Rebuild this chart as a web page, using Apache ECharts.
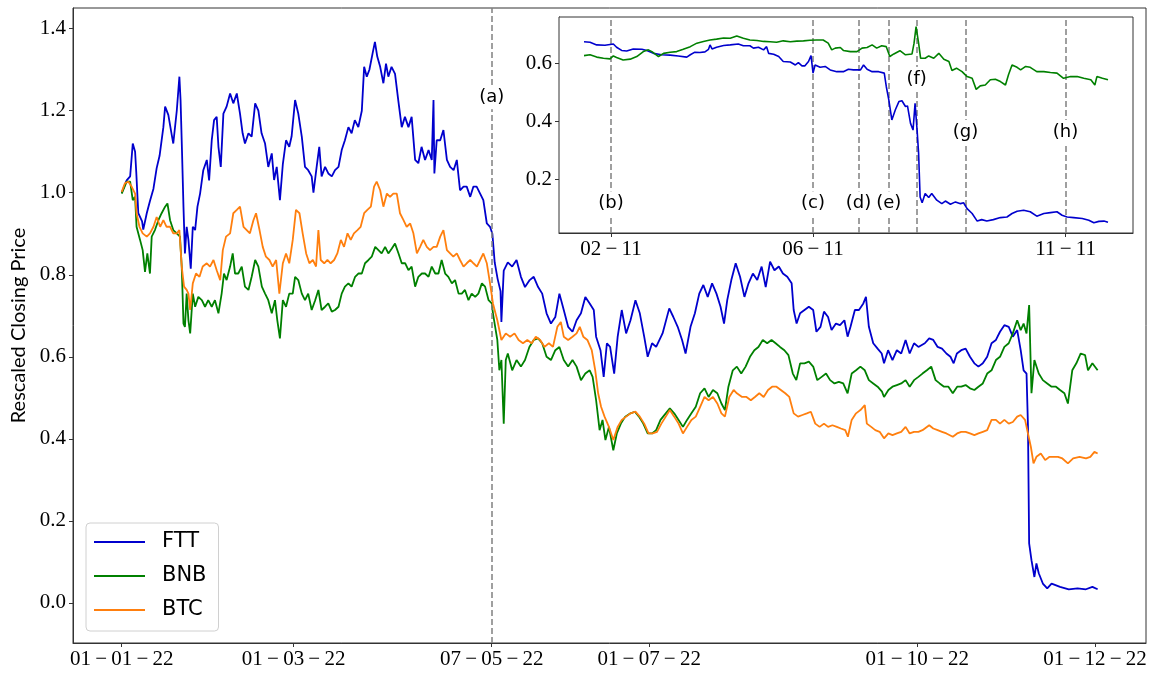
<!DOCTYPE html>
<html><head><meta charset="utf-8">
<script src="https://cdn.jsdelivr.net/npm/echarts@6/dist/echarts.min.js"></script>
<style>html,body{margin:0;padding:0;background:#fff}#c{width:1154px;height:673px}</style>
</head><body><div id="c"></div>
<script>
// ---- main chart: x = days since 01-01-2022, y = rescaled closing price ----
const mainTickDays = [0, 59, 126.97, 181, 273, 334];
const mainTickLabels = ['01\u2009\u2212\u200901\u2009\u2212\u200922','01\u2009\u2212\u200903\u2009\u2212\u200922','07\u2009\u2212\u200905\u2009\u2212\u200922','01\u2009\u2212\u200907\u2009\u2212\u200922','01\u2009\u2212\u200910\u2009\u2212\u200922','01\u2009\u2212\u200912\u2009\u2212\u200922'];
const mainYTicks = [0, 0.2, 0.4, 0.6, 0.8, 1.0, 1.2, 1.4];
const seriesNames = ['FTT','BNB','BTC'];

const FTT = [[0,1.0],[1.7,1.03],[2.9,1.04],[3.8,1.12],[4.6,1.10],[5,1.05],[5.7,0.95],[7,0.93],[7.4,0.91],[8.6,0.95],[9.7,0.98],[10.9,1.01],[12,1.06],[13,1.09],[14.3,1.16],[14.9,1.21],[16,1.19],[17.2,1.14],[17.7,1.12],[18.9,1.20],[19.8,1.283],[20.2,1.226],[20.7,1.10],[21.2,0.966],[21.7,0.852],[22.3,0.917],[22.9,0.885],[23.7,0.815],[24.4,0.917],[25.2,0.909],[26,0.966],[26.9,0.998],[28,1.055],[29.2,1.08],[30,1.03],[30.9,1.128],[31.7,1.177],[32.6,1.185],[33.2,1.112],[34,1.063],[34.9,1.193],[36,1.21],[37.2,1.242],[38.3,1.218],[39.5,1.242],[40.6,1.193],[41.5,1.145],[42.3,1.12],[43.5,1.145],[44.6,1.137],[45.8,1.218],[46.9,1.2],[48,1.145],[49.2,1.12],[50.3,1.063],[51.5,1.096],[52.3,1.031],[53.2,1.063],[54.3,0.982],[55.3,1.07],[56.4,1.128],[57.5,1.112],[58.3,1.137],[59.5,1.226],[60.6,1.193],[61.8,1.137],[62.9,1.063],[64,1.055],[65.2,1.04],[65.8,1.0],[66.9,1.063],[67.8,1.112],[68.6,1.04],[69.8,1.063],[70.9,1.047],[72.1,1.04],[73.2,1.055],[74.4,1.063],[75.5,1.104],[76.6,1.128],[77.8,1.16],[78.9,1.145],[80,1.177],[81.2,1.16],[82.4,1.2],[83.2,1.307],[84.1,1.283],[85,1.3],[86.1,1.34],[86.9,1.368],[87.7,1.332],[88.7,1.307],[89.8,1.267],[90.7,1.315],[91.5,1.283],[92.6,1.307],[93.8,1.29],[94.9,1.226],[96.1,1.16],[97.2,1.185],[98.4,1.16],[99.5,1.185],[100.7,1.08],[101.8,1.072],[102.9,1.112],[104.1,1.08],[105.3,1.104],[106.4,1.08],[107,1.226],[107.3,1.047],[108.1,1.128],[109.3,1.128],[110.4,1.153],[111.6,1.08],[112.7,1.063],[113.9,1.055],[115,1.08],[116.1,1.006],[117.3,1.015],[118.4,1.015],[119.6,0.99],[120.7,1.015],[121.8,1.015],[123,0.998],[124.1,0.982],[125.3,0.925],[126.4,0.917],[127.2,0.9],[128,0.83],[129,0.79],[130,0.76],[130.3,0.685],[131.1,0.81],[132.5,0.83],[134,0.82],[135.5,0.836],[137,0.795],[138.4,0.77],[140,0.787],[141.4,0.795],[142.9,0.77],[144.3,0.754],[145.8,0.706],[147.3,0.681],[148.8,0.697],[150.2,0.754],[151.7,0.714],[153.2,0.673],[154.7,0.661],[156.1,0.689],[157.6,0.706],[159.1,0.746],[160.6,0.73],[162,0.714],[162.8,0.649],[164.3,0.616],[165.4,0.551],[166.5,0.633],[167.6,0.624],[169,0.559],[170.2,0.649],[171.6,0.714],[173.1,0.657],[174.6,0.689],[176.3,0.738],[177.8,0.706],[179.3,0.649],[180.5,0.6],[182,0.633],[183.4,0.624],[185.6,0.657],[187.9,0.718],[189.3,0.697],[190.8,0.673],[192.3,0.641],[193.5,0.608],[195.2,0.673],[196.7,0.706],[198.2,0.754],[199.6,0.775],[201.1,0.746],[202.6,0.779],[204.1,0.754],[205.5,0.722],[206.7,0.681],[207.8,0.738],[209.2,0.787],[210.7,0.828],[212.2,0.795],[213.7,0.746],[215.1,0.779],[216.6,0.803],[218.1,0.787],[219.6,0.82],[221,0.77],[222.5,0.832],[224,0.811],[225.5,0.82],[226.9,0.803],[228.4,0.795],[229.9,0.779],[230.6,0.714],[231.6,0.681],[232.8,0.706],[234.3,0.714],[235.8,0.722],[237.3,0.714],[238.4,0.661],[239.8,0.673],[241,0.71],[242.4,0.697],[243.6,0.665],[245.1,0.681],[246.5,0.677],[248,0.689],[249.1,0.649],[250.1,0.673],[251.6,0.714],[253,0.714],[254.5,0.73],[255.4,0.746],[256.4,0.673],[257.9,0.633],[259.4,0.62],[260.8,0.608],[261.6,0.584],[263,0.616],[264.5,0.592],[266,0.616],[267.5,0.608],[269,0.641],[270.4,0.608],[271.9,0.633],[273.4,0.624],[275.6,0.633],[277.1,0.645],[278.5,0.641],[280,0.624],[281.5,0.62],[283,0.608],[284.4,0.6],[285.5,0.584],[286.6,0.608],[288.1,0.616],[289.6,0.62],[291.1,0.6],[292.6,0.584],[294,0.576],[295.5,0.584],[297,0.6],[298.5,0.633],[300,0.641],[301.4,0.661],[302.9,0.677],[304.4,0.673],[305.8,0.649],[307.3,0.665],[308.5,0.616],[309.5,0.567],[310.5,0.559],[311,0.43],[311.4,0.145],[312.2,0.104],[313.2,0.063],[313.9,0.096],[314.7,0.072],[316.1,0.047],[317.6,0.035],[319.1,0.047],[322,0.039],[325,0.033],[328,0.035],[330.9,0.033],[333.1,0.039],[334.9,0.033]];

const BNB = [[0,0.998],[1.7,1.027],[2.9,1.027],[3.8,0.982],[4.6,0.99],[5.1,0.917],[6.3,0.885],[7.2,0.86],[8,0.807],[8.8,0.852],[9.7,0.803],[10.3,0.893],[11.4,0.909],[12.6,0.933],[13.7,0.95],[14.9,0.966],[15.7,0.974],[16.6,0.933],[17.7,0.909],[18.9,0.901],[20,0.893],[20.6,0.82],[21.2,0.681],[21.7,0.673],[22.3,0.754],[22.9,0.689],[23.5,0.657],[24.4,0.754],[25.2,0.722],[26.3,0.746],[27.5,0.738],[28.6,0.722],[29.7,0.738],[30.9,0.722],[32,0.738],[33.2,0.706],[34.3,0.754],[35.1,0.803],[36,0.787],[37.2,0.82],[38.1,0.852],[38.9,0.803],[40,0.803],[41.2,0.82],[42.3,0.771],[43.5,0.763],[44.6,0.795],[45.8,0.836],[46.9,0.82],[48.1,0.771],[49.2,0.754],[50.3,0.738],[51.5,0.706],[52.6,0.738],[53.4,0.689],[54.3,0.645],[55.3,0.738],[56.4,0.722],[57.5,0.754],[58.7,0.754],[59.5,0.795],[60.6,0.787],[61.8,0.754],[62.9,0.738],[64,0.754],[65.2,0.714],[66.4,0.738],[67.5,0.763],[68.6,0.714],[69.8,0.722],[70.9,0.73],[72.1,0.71],[73.2,0.714],[74.4,0.722],[75.5,0.754],[76.6,0.771],[77.8,0.779],[78.9,0.771],[80.1,0.795],[81.2,0.803],[82.4,0.803],[83.5,0.828],[84.7,0.836],[85.8,0.844],[87,0.868],[88.1,0.86],[89.2,0.852],[90.4,0.868],[91.5,0.852],[92.7,0.864],[93.8,0.876],[95,0.852],[96.1,0.828],[97.3,0.828],[98.4,0.811],[99.5,0.82],[100.7,0.771],[101.8,0.795],[103,0.803],[104.1,0.803],[105.3,0.795],[106.4,0.82],[107.6,0.803],[108.7,0.803],[109.8,0.836],[111,0.803],[112.1,0.795],[113.3,0.779],[114.4,0.787],[115.6,0.754],[116.7,0.754],[117.8,0.763],[119,0.738],[120.1,0.754],[121.3,0.746],[122.4,0.754],[123.6,0.779],[124.7,0.771],[125.9,0.738],[127,0.73],[127.4,0.706],[128.9,0.641],[129.6,0.567],[130.3,0.592],[131.1,0.437],[131.8,0.592],[132.5,0.608],[134,0.567],[135.5,0.592],[137,0.576],[138.4,0.592],[139.9,0.624],[141.4,0.641],[142.9,0.645],[144.3,0.633],[145.8,0.6],[147.3,0.592],[148.8,0.616],[150.2,0.624],[151.7,0.592],[153.2,0.576],[154.7,0.592],[156.1,0.576],[157.6,0.543],[159.1,0.559],[160.6,0.567],[161.6,0.551],[162.8,0.494],[164,0.421],[165,0.446],[166,0.397],[167.2,0.429],[168.7,0.372],[169.9,0.413],[171.3,0.437],[172.8,0.454],[174.6,0.462],[176.1,0.466],[177.5,0.454],[179,0.437],[180.5,0.413],[182,0.413],[183.4,0.421],[184.9,0.446],[186.7,0.462],[188.1,0.474],[189.6,0.462],[191.1,0.446],[192.6,0.429],[194,0.446],[195.5,0.462],[197,0.478],[198.5,0.511],[200,0.523],[201.4,0.502],[202.9,0.519],[204.4,0.511],[205.8,0.486],[207,0.47],[208.2,0.527],[209.7,0.567],[211.1,0.576],[212.6,0.559],[214.1,0.576],[215.6,0.6],[217.1,0.616],[218.5,0.624],[220,0.641],[221.5,0.633],[223,0.641],[224.4,0.633],[225.9,0.624],[227.4,0.616],[228.8,0.604],[230.3,0.559],[231.5,0.543],[232.8,0.584],[234.3,0.584],[235.8,0.588],[237.3,0.576],[238.7,0.543],[240.2,0.551],[241.7,0.559],[243.1,0.543],[244.6,0.535],[246.1,0.539],[247.6,0.535],[249.1,0.511],[250.5,0.559],[252,0.567],[253.5,0.576],[255,0.567],[256.4,0.543],[257.9,0.535],[259.4,0.527],[260.9,0.515],[261.6,0.502],[263.1,0.519],[264.5,0.527],[266,0.531],[267.5,0.535],[269,0.543],[270.4,0.527],[271.9,0.543],[273.4,0.551],[274.8,0.559],[276.3,0.567],[277.8,0.576],[279.3,0.543],[280.7,0.535],[282.2,0.527],[283.7,0.527],[285.2,0.511],[286.7,0.527],[288.1,0.527],[289.6,0.531],[291.1,0.523],[292.6,0.519],[294,0.527],[295.5,0.535],[297,0.559],[298.5,0.567],[300,0.592],[301.4,0.6],[302.9,0.624],[304.4,0.633],[305.8,0.657],[307.3,0.689],[308.5,0.665],[309.5,0.681],[310.5,0.657],[311.4,0.726],[312.2,0.511],[313.2,0.592],[314.7,0.559],[316.1,0.543],[317.6,0.535],[319.1,0.527],[320.6,0.527],[322,0.519],[323.5,0.511],[324.7,0.486],[326.2,0.567],[327.6,0.584],[329.1,0.608],[330.6,0.604],[331.6,0.567],[333.1,0.584],[334.9,0.567]];

const BTC = [[0,1.002],[1.1,1.023],[2.3,1.027],[3.4,1.015],[4.6,0.998],[5.1,0.95],[6.1,0.917],[7.2,0.901],[8.6,0.893],[9.7,0.901],[10.9,0.917],[12,0.941],[13.2,0.917],[14.3,0.933],[15.4,0.917],[16.6,0.917],[17.7,0.901],[18.9,0.901],[19.8,0.909],[20.6,0.82],[21.4,0.771],[22.3,0.763],[22.9,0.754],[23.5,0.714],[24.4,0.779],[25.5,0.803],[26.7,0.795],[27.8,0.82],[29.2,0.828],[30.3,0.82],[31.5,0.836],[32.6,0.811],[33.8,0.787],[34.7,0.86],[35.8,0.893],[37.2,0.901],[38.3,0.95],[39.5,0.958],[40.6,0.966],[41.8,0.917],[42.9,0.909],[44,0.901],[45.2,0.933],[46.1,0.95],[47.3,0.909],[48.4,0.868],[49.5,0.844],[50.7,0.836],[51.8,0.82],[53,0.836],[54.1,0.754],[55.3,0.828],[56.4,0.852],[57.5,0.828],[58.7,0.885],[59.8,0.958],[61,0.95],[62.1,0.901],[63.3,0.852],[64.4,0.828],[65.6,0.836],[66.7,0.82],[67.5,0.909],[68.3,0.836],[69.5,0.828],[70.6,0.836],[71.7,0.828],[72.9,0.836],[74,0.852],[75.2,0.885],[76.3,0.868],[77.5,0.901],[78.6,0.885],[79.7,0.901],[80.9,0.909],[82,0.917],[83.2,0.95],[84.3,0.958],[85.5,0.966],[86.6,1.015],[87.5,1.027],[88.7,1.006],[89.8,0.966],[91,0.998],[92.1,0.99],[93.2,0.998],[94.4,0.998],[95.5,0.95],[96.7,0.933],[97.8,0.917],[99,0.925],[100.1,0.901],[101.3,0.852],[102.4,0.868],[103.5,0.885],[104.7,0.868],[105.8,0.86],[107,0.868],[108.1,0.868],[109.3,0.893],[110.4,0.909],[111.6,0.86],[112.7,0.852],[113.8,0.844],[115,0.852],[116.1,0.836],[117.3,0.82],[118.4,0.828],[119.6,0.836],[120.7,0.828],[121.9,0.82],[123,0.836],[124.1,0.852],[125.3,0.828],[126.4,0.779],[127.4,0.73],[128.9,0.689],[130.3,0.641],[131.8,0.657],[133.3,0.649],[134.8,0.657],[136.2,0.641],[137.7,0.633],[139.2,0.641],[140.7,0.633],[142.1,0.649],[143.6,0.641],[145.1,0.624],[146.6,0.633],[148,0.624],[149.5,0.673],[150.7,0.685],[151.7,0.649],[153.2,0.641],[154.7,0.649],[156.1,0.657],[157.2,0.673],[158.4,0.649],[159.8,0.641],[161.3,0.616],[162.5,0.567],[163.5,0.511],[164.5,0.478],[165.7,0.454],[167.2,0.429],[168.7,0.397],[170.2,0.429],[171.6,0.446],[173.1,0.454],[174.6,0.462],[176.3,0.466],[177.8,0.454],[179.3,0.437],[180.8,0.413],[182.2,0.413],[183.7,0.417],[185.2,0.437],[186.7,0.454],[188.1,0.47],[189.6,0.454],[191.1,0.437],[192.6,0.413],[194,0.429],[195.5,0.446],[197,0.454],[198.5,0.478],[200,0.502],[201.4,0.494],[202.9,0.502],[204.4,0.486],[205.8,0.462],[207,0.454],[208.5,0.502],[210,0.519],[211.1,0.511],[212.9,0.502],[214.4,0.502],[215.9,0.494],[217.3,0.502],[218.8,0.511],[220.3,0.502],[221.8,0.519],[223.2,0.527],[224.7,0.527],[226.2,0.519],[227.7,0.511],[229.1,0.502],[230.6,0.462],[232.1,0.454],[233.6,0.458],[235.1,0.462],[236.5,0.466],[238,0.437],[239.5,0.429],[241,0.437],[242.4,0.429],[243.9,0.433],[245.4,0.429],[246.8,0.425],[248.3,0.421],[249.2,0.405],[250.5,0.446],[252,0.462],[253.5,0.47],[255,0.482],[255.7,0.437],[257.2,0.429],[258.6,0.421],[260.1,0.417],[261.6,0.401],[263.1,0.413],[264.5,0.409],[266,0.413],[267.5,0.417],[269,0.429],[270.4,0.413],[271.9,0.417],[273.4,0.417],[274.8,0.421],[277.1,0.433],[278.5,0.425],[280,0.421],[281.5,0.417],[283,0.413],[285.2,0.405],[286.7,0.413],[288.1,0.417],[289.6,0.417],[291.1,0.413],[292.6,0.409],[294,0.413],[295.5,0.417],[297,0.421],[298.5,0.446],[300,0.446],[301.4,0.437],[302.9,0.446],[304.4,0.437],[305.8,0.441],[307.3,0.454],[308.5,0.458],[310,0.446],[311,0.413],[312,0.38],[312.9,0.34],[313.9,0.356],[315.4,0.364],[316.9,0.348],[318.4,0.356],[319.8,0.356],[321.3,0.356],[322.8,0.352],[324.7,0.34],[326.5,0.352],[328.7,0.356],[330.9,0.352],[332.4,0.356],[333.8,0.368],[334.9,0.364]];

const mainEvents = [{name:'(a)', day:126.97, labelY:1.233}];

// ---- inset: x = days since 01-11-2022 00:00 ----
const insetTickDays = [1, 5, 10];
const insetTickLabels = ['02\u2009\u2212\u200911','06\u2009\u2212\u200911','11\u2009\u2212\u200911'];
const insetYTicks = [0.2, 0.4, 0.6];

const FTT_NOV = [[0.465,0.674],[0.584,0.672],[0.716,0.663],[0.88,0.662],[1.046,0.666],[1.11,0.655],[1.21,0.644],[1.31,0.642],[1.44,0.649],[1.61,0.648],[1.71,0.644],[1.84,0.634],[2.0,0.629],[2.17,0.628],[2.33,0.625],[2.5,0.621],[2.57,0.629],[2.66,0.638],[2.76,0.637],[2.86,0.639],[2.93,0.648],[2.96,0.663],[3.0,0.649],[3.09,0.655],[3.23,0.661],[3.36,0.663],[3.52,0.666],[3.62,0.66],[3.75,0.66],[3.82,0.652],[3.92,0.655],[4.02,0.646],[4.08,0.657],[4.12,0.634],[4.22,0.631],[4.32,0.623],[4.41,0.606],[4.55,0.604],[4.65,0.594],[4.71,0.602],[4.78,0.591],[4.84,0.591],[4.91,0.606],[4.96,0.626],[5.0,0.566],[5.04,0.594],[5.14,0.586],[5.24,0.589],[5.34,0.577],[5.47,0.571],[5.6,0.571],[5.7,0.579],[5.8,0.577],[5.94,0.577],[6.0,0.594],[6.07,0.579],[6.17,0.571],[6.3,0.571],[6.41,0.566],[6.45,0.52],[6.5,0.474],[6.56,0.405],[6.63,0.44],[6.7,0.468],[6.76,0.471],[6.83,0.451],[6.87,0.453],[6.93,0.393],[6.98,0.37],[7.02,0.462],[7.06,0.37],[7.09,0.29],[7.12,0.14],[7.16,0.12],[7.22,0.152],[7.29,0.138],[7.35,0.152],[7.45,0.129],[7.55,0.117],[7.62,0.126],[7.72,0.115],[7.82,0.123],[7.92,0.117],[7.98,0.12],[8.05,0.1],[8.15,0.083],[8.25,0.057],[8.34,0.062],[8.44,0.057],[8.57,0.062],[8.71,0.069],[8.84,0.071],[8.94,0.083],[9.04,0.091],[9.17,0.094],[9.3,0.089],[9.43,0.074],[9.57,0.083],[9.7,0.086],[9.83,0.089],[9.93,0.077],[10.03,0.071],[10.16,0.069],[10.33,0.066],[10.46,0.06],[10.56,0.051],[10.66,0.056],[10.76,0.057],[10.84,0.053]];

const BNB_NOV = [[0.465,0.626],[0.584,0.629],[0.716,0.621],[0.85,0.617],[0.98,0.615],[1.046,0.625],[1.11,0.62],[1.24,0.611],[1.38,0.614],[1.51,0.623],[1.64,0.64],[1.74,0.646],[1.81,0.64],[1.94,0.623],[2.04,0.634],[2.17,0.638],[2.3,0.64],[2.43,0.648],[2.57,0.657],[2.7,0.669],[2.83,0.675],[2.96,0.68],[3.09,0.683],[3.23,0.687],[3.36,0.686],[3.49,0.694],[3.62,0.686],[3.75,0.68],[3.89,0.678],[4.02,0.675],[4.15,0.674],[4.28,0.672],[4.41,0.677],[4.55,0.674],[4.68,0.676],[4.81,0.677],[4.94,0.679],[5.07,0.68],[5.2,0.68],[5.3,0.669],[5.37,0.646],[5.44,0.652],[5.54,0.654],[5.6,0.644],[5.74,0.64],[5.87,0.64],[5.97,0.652],[6.07,0.654],[6.17,0.663],[6.26,0.652],[6.36,0.66],[6.45,0.657],[6.52,0.623],[6.6,0.632],[6.72,0.643],[6.83,0.629],[6.96,0.632],[7.0,0.669],[7.04,0.726],[7.09,0.669],[7.13,0.617],[7.22,0.617],[7.29,0.625],[7.39,0.617],[7.49,0.634],[7.59,0.614],[7.69,0.606],[7.75,0.575],[7.84,0.583],[7.95,0.571],[8.05,0.554],[8.15,0.548],[8.23,0.51],[8.31,0.522],[8.41,0.525],[8.51,0.543],[8.61,0.545],[8.71,0.537],[8.81,0.525],[8.87,0.56],[8.94,0.594],[9.04,0.586],[9.11,0.577],[9.21,0.589],[9.3,0.586],[9.43,0.571],[9.57,0.571],[9.7,0.568],[9.83,0.566],[9.96,0.548],[10.1,0.554],[10.23,0.554],[10.36,0.548],[10.5,0.543],[10.58,0.525],[10.62,0.554],[10.73,0.548],[10.84,0.543]];

const insetEvents = [
  {name:'(b)', day:1.0, labelY:0.118},
  {name:'(c)', day:5.0, labelY:0.118},
  {name:'(d)', day:5.9, labelY:0.118},
  {name:'(e)', day:6.5, labelY:0.118},
  {name:'(f)', day:7.05, labelY:0.546},
  {name:'(g)', day:8.02, labelY:0.364},
  {name:'(h)', day:10.0, labelY:0.364}
];

const COLORS = {FTT:'#0000cd', BNB:'#008000', BTC:'#ff7f0e'};

// ---- build ----
const SERIF = 'Liberation Serif';
const AX = '#333';
function tickFmt(values, labels){ return v => { const i = values.findIndex(t => Math.abs(t - v) < 1e-6); return i >= 0 ? labels[i] : ''; }; }
const dashStyle = {color:'#808080', width:1.5, type:[6,3]};

function vLineMark(events){
  return {silent:true, symbol:['none','none'], label:{show:false}, lineStyle:dashStyle,
          emphasis:{disabled:true}, data: events.map(e => ({xAxis:e.day}))};
}
function labelSeries(events, xi, yi){
  return {type:'scatter', xAxisIndex:xi, yAxisIndex:yi, z:10, silent:true, symbolSize:1,
    itemStyle:{color:'#ffffff', opacity:1},
    label:{show:true, position:'inside', formatter:'{b}', color:'#000000', opacity:1, fontFamily:'DejaVu Sans', fontSize:18,
           backgroundColor:'#ffffff', padding:[3,1,3,1], textBorderWidth:0},
    emphasis:{disabled:true},
    data: events.map(e => ({name:e.name, value:[e.day, e.labelY]}))};
}

const chart = echarts.init(document.getElementById('c'), null, {renderer:'canvas'});
const mainData = {FTT, BNB, BTC};
const axLine = {show:true, onZero:false, lineStyle:{color:AX}};
const option = {
  animation:false,
  backgroundColor:'#fff',
  grid:[
    {left:73, top:8, width:1073, height:635, show:true, borderColor:AX, borderWidth:1, backgroundColor:'transparent'},
    {left:559, top:17, width:574, height:216, show:true, borderColor:AX, borderWidth:1, backgroundColor:'#fff', z:3}
  ],
  xAxis:[
    {type:'value', gridIndex:0, min:-16.71, max:351.5, splitLine:{show:false}, axisLine:axLine,
     axisTick:{show:true, customValues:mainTickDays, length:4, lineStyle:{color:AX}},
     axisLabel:{customValues:mainTickDays, formatter:tickFmt(mainTickDays, mainTickLabels), fontFamily:SERIF, fontSize:21, color:'#000', margin:6}},
    {type:'value', gridIndex:1, min:-0.03, max:11.335, splitLine:{show:false}, axisLine:axLine,
     axisTick:{show:true, customValues:insetTickDays, length:4, lineStyle:{color:AX}},
     axisLabel:{customValues:insetTickDays, formatter:tickFmt(insetTickDays, insetTickLabels), fontFamily:SERIF, fontSize:21, color:'#000', margin:6}}
  ],
  yAxis:[
    {type:'value', gridIndex:0, min:-0.098, max:1.4505, splitLine:{show:false}, axisLine:axLine,
     axisTick:{show:true, customValues:mainYTicks, length:4, lineStyle:{color:AX}},
     axisLabel:{customValues:mainYTicks, formatter:v => v.toFixed(1), fontFamily:SERIF, fontSize:21, color:'#000', margin:7},
     name:'Rescaled Closing Price', nameLocation:'middle', nameRotate:90, nameGap:44,
     nameTextStyle:{fontFamily:'Lato', fontSize:20, color:'#000'}},
    {type:'value', gridIndex:1, min:0.016, max:0.759, splitLine:{show:false}, axisLine:axLine,
     axisTick:{show:true, customValues:insetYTicks, length:4, lineStyle:{color:AX}},
     axisLabel:{customValues:insetYTicks, formatter:v => v.toFixed(1), fontFamily:SERIF, fontSize:21, color:'#000', margin:7}}
  ],
  legend:{
    data:seriesNames, orient:'vertical', left:86, top:523, icon:'rect', itemWidth:51, itemHeight:2,
    itemGap:10, padding:[7,12,9,8], borderColor:'#d0d0d0', borderWidth:1, borderRadius:4, backgroundColor:'rgba(255,255,255,0.85)',
    textStyle:{fontFamily:'DejaVu Sans', fontSize:21, color:'#000', lineHeight:24, padding:[0,0,0,12]}
  },
  series:[
    ...seriesNames.map((n, i) => ({
      name:n, type:'line', xAxisIndex:0, yAxisIndex:0, data:mainData[n], showSymbol:false, symbol:'none',
      lineStyle:{color:COLORS[n], width:1.8}, itemStyle:{color:COLORS[n]}, z:3+i,
      markLine: i === 0 ? vLineMark(mainEvents) : undefined
    })),
    {name:'FTT (Nov)', type:'line', xAxisIndex:1, yAxisIndex:1, data:FTT_NOV, showSymbol:false, symbol:'none',
     lineStyle:{color:COLORS.FTT, width:1.6}, itemStyle:{color:COLORS.FTT}, z:6, markLine:vLineMark(insetEvents)},
    {name:'BNB (Nov)', type:'line', xAxisIndex:1, yAxisIndex:1, data:BNB_NOV, showSymbol:false, symbol:'none',
     lineStyle:{color:COLORS.BNB, width:1.6}, itemStyle:{color:COLORS.BNB}, z:6},
    labelSeries(mainEvents, 0, 0),
    labelSeries(insetEvents, 1, 1)
  ]
};
chart.setOption(option);
</script>
</body></html>
